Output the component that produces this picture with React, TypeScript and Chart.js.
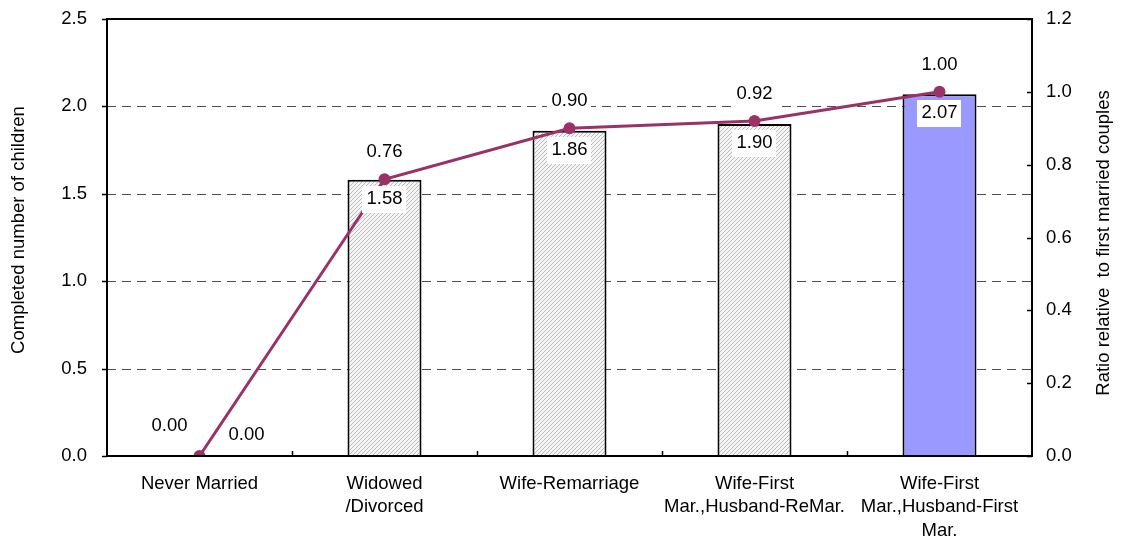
import React, { useEffect, useRef } from "react";
import { Chart, registerables } from "chart.js";

Chart.register(...registerables);

// Category names (multi-line labels on the x axis)
const CATEGORIES: string[][] = [
  ["Never Married"],
  ["Widowed", "/Divorced"],
  ["Wife-Remarriage"],
  ["Wife-First", "Mar.,Husband-ReMar."],
  ["Wife-First", "Mar.,Husband-First", "Mar."],
];

// Completed number of children (bars, left axis)
const CHILDREN: number[] = [0.0, 1.58, 1.86, 1.9, 2.07];

// Ratio relative to first married couples (line, right axis)
const RATIO: number[] = [0.0, 0.76, 0.9, 0.92, 1.0];

const LEFT_AXIS_TITLE = "Completed number of children";
const RIGHT_AXIS_TITLE = "Ratio relative  to first married couples";

const FONT = "'Liberation Sans', Arial, Helvetica, sans-serif";
const TEXT_SIZE = 18.5;
const LINE_COLOR = "#993366";
const HIGHLIGHT_FILL = "#9999ff";

function makeHatch(): CanvasPattern | string {
  const c = document.createElement("canvas");
  c.width = 4;
  c.height = 4;
  const g = c.getContext("2d");
  if (!g) return "#e0e0e0";
  g.fillStyle = "#f4f4f4";
  g.fillRect(0, 0, 4, 4);
  g.fillStyle = "#bdbdbd";
  for (let k = 0; k < 4; k++) g.fillRect(k, 3 - k, 1, 1);
  return g.createPattern(c, "repeat") || "#e0e0e0";
}

function drawBoxedText(
  ctx: CanvasRenderingContext2D,
  text: string,
  cx: number,
  cy: number,
  boxed: boolean
) {
  const w = ctx.measureText(text).width;
  if (boxed) {
    ctx.fillStyle = "#ffffff";
    ctx.fillRect(Math.round(cx - w / 2 - 4), Math.round(cy - 13), Math.round(w + 8), 27);
  }
  ctx.fillStyle = "#000000";
  ctx.fillText(text, cx, cy);
}

const noScalePadding = (s: any) => {
  s.paddingTop = 0;
  s.paddingBottom = 0;
  s.paddingLeft = 0;
  s.paddingRight = 0;
};

const decorations = {
  id: "decorations",
  beforeDatasetsDraw(chart: any) {
    const { ctx, chartArea, scales } = chart;
    const { left, right } = chartArea;
    const y = scales.y;
    ctx.save();
    ctx.strokeStyle = "#4d4d4d";
    ctx.lineWidth = 1;
    ctx.setLineDash([9, 6]);
    for (const t of y.ticks) {
      if (t.value <= y.min || t.value >= y.max) continue;
      const py = Math.round(y.getPixelForValue(t.value)) + 0.5;
      ctx.beginPath();
      ctx.moveTo(left, py);
      ctx.lineTo(right, py);
      ctx.stroke();
    }
    ctx.restore();
  },
  afterDatasetsDraw(chart: any) {
    const { ctx, chartArea, scales } = chart;
    const { left, right, top, bottom } = chartArea;
    const { x, y, y1 } = scales;

    ctx.save();
    // plot frame
    ctx.strokeStyle = "#000000";
    ctx.lineWidth = 2;
    ctx.setLineDash([]);
    ctx.strokeRect(left, top, right - left, bottom - top);

    // tick marks
    ctx.lineWidth = 1.5;
    ctx.beginPath();
    for (const t of y.ticks) {
      const py = Math.round(y.getPixelForValue(t.value)) + 0.5;
      ctx.moveTo(left - 5, py);
      ctx.lineTo(left, py);
    }
    for (const t of y1.ticks) {
      const py = Math.round(y1.getPixelForValue(t.value)) + 0.5;
      ctx.moveTo(right - 5, py);
      ctx.lineTo(right, py);
    }
    const half = (x.getPixelForValue(1) - x.getPixelForValue(0)) / 2;
    for (let i = 0; i < CATEGORIES.length - 1; i++) {
      const px = Math.round(x.getPixelForValue(i) + half) + 0.5;
      ctx.moveTo(px, bottom);
      ctx.lineTo(px, bottom - 5);
    }
    ctx.stroke();

    // data labels
    ctx.font = `${TEXT_SIZE}px ${FONT}`;
    ctx.textAlign = "center";
    ctx.textBaseline = "middle";
    const barMeta = chart.getDatasetMeta(0);
    const lineMeta = chart.getDatasetMeta(1);
    for (let i = 0; i < CATEGORIES.length; i++) {
      const bar = barMeta.data[i];
      const bv = CHILDREN[i];
      if (bv === 0) {
        drawBoxedText(ctx, bv.toFixed(2), bar.x + 47, bottom - 21, false);
      } else {
        drawBoxedText(ctx, bv.toFixed(2), bar.x, bar.y + 19, true);
      }
      const pt = lineMeta.data[i];
      const lv = RATIO[i];
      if (lv === 0) {
        drawBoxedText(ctx, lv.toFixed(2), pt.x - 30, pt.y - 30, false);
      } else {
        drawBoxedText(ctx, lv.toFixed(2), pt.x, pt.y - 27, true);
      }
    }

    // axis titles
    ctx.font = `${TEXT_SIZE}px ${FONT}`;
    ctx.fillStyle = "#000000";
    ctx.save();
    ctx.translate(19, 230);
    ctx.rotate(-Math.PI / 2);
    ctx.fillText(LEFT_AXIS_TITLE, 0, 0);
    ctx.restore();
    ctx.save();
    ctx.translate(1104, 243);
    ctx.rotate(-Math.PI / 2);
    ctx.fillText(RIGHT_AXIS_TITLE, 0, 0);
    ctx.restore();

    ctx.restore();
  },
};

export default function App() {
  const canvasRef = useRef<HTMLCanvasElement | null>(null);

  useEffect(() => {
    const canvas = canvasRef.current;
    if (!canvas) return;
    const hatch = makeHatch();
    const fills = CHILDREN.map((_, i) => (i === CHILDREN.length - 1 ? HIGHLIGHT_FILL : hatch));

    const chart = new Chart(canvas, {
      type: "bar",
      data: {
        labels: CATEGORIES,
        datasets: [
          {
            type: "bar",
            label: LEFT_AXIS_TITLE,
            data: CHILDREN,
            yAxisID: "y",
            backgroundColor: fills as any,
            borderColor: "#000000",
            borderWidth: 2,
            barPercentage: 0.4,
            categoryPercentage: 1,
            order: 2,
          },
          {
            type: "line",
            label: RIGHT_AXIS_TITLE,
            data: RATIO,
            yAxisID: "y1",
            borderColor: LINE_COLOR,
            backgroundColor: LINE_COLOR,
            borderWidth: 3,
            pointRadius: 6,
            pointBorderWidth: 0,
            pointBackgroundColor: LINE_COLOR,
            tension: 0,
            order: 1,
          } as any,
        ],
      },
      options: {
        responsive: false,
        animation: false,
        devicePixelRatio: 1,
        layout: { padding: { top: 19, left: 0, right: 0, bottom: 0 } },
        plugins: {
          legend: { display: false },
          tooltip: { enabled: false },
        },
        scales: {
          x: {
            type: "category",
            offset: true,
            grid: { display: false, drawTicks: false },
            border: { display: false },
            ticks: {
              color: "#000000",
              font: { family: FONT, size: TEXT_SIZE, lineHeight: 1.27 },
              padding: 16,
              maxRotation: 0,
              autoSkip: false,
            },
            afterFit: (s: any) => {
              s.height = 87;
              noScalePadding(s);
            },
          },
          y: {
            position: "left",
            min: 0,
            max: 2.5,
            grid: { display: false, drawTicks: false },
            border: { display: false },
            ticks: {
              stepSize: 0.5,
              color: "#000000",
              font: { family: FONT, size: TEXT_SIZE },
              padding: 20,
              callback: (v: any) => Number(v).toFixed(1),
            },
            afterFit: (s: any) => {
              s.width = 107;
              noScalePadding(s);
            },
          },
          y1: {
            position: "right",
            min: 0,
            max: 1.2,
            grid: { display: false, drawTicks: false },
            border: { display: false },
            ticks: {
              stepSize: 0.2,
              color: "#000000",
              font: { family: FONT, size: TEXT_SIZE },
              padding: 14,
              callback: (v: any) => Number(v).toFixed(1),
            },
            afterFit: (s: any) => {
              s.width = 91;
              noScalePadding(s);
            },
          },
        },
      },
      plugins: [decorations],
    });

    return () => chart.destroy();
  }, []);

  return (
    <div style={{ position: "fixed", left: 0, top: 0, width: 1123, height: 543, background: "#ffffff" }}>
      <canvas ref={canvasRef} width={1123} height={543} style={{ display: "block" }} />
    </div>
  );
}
